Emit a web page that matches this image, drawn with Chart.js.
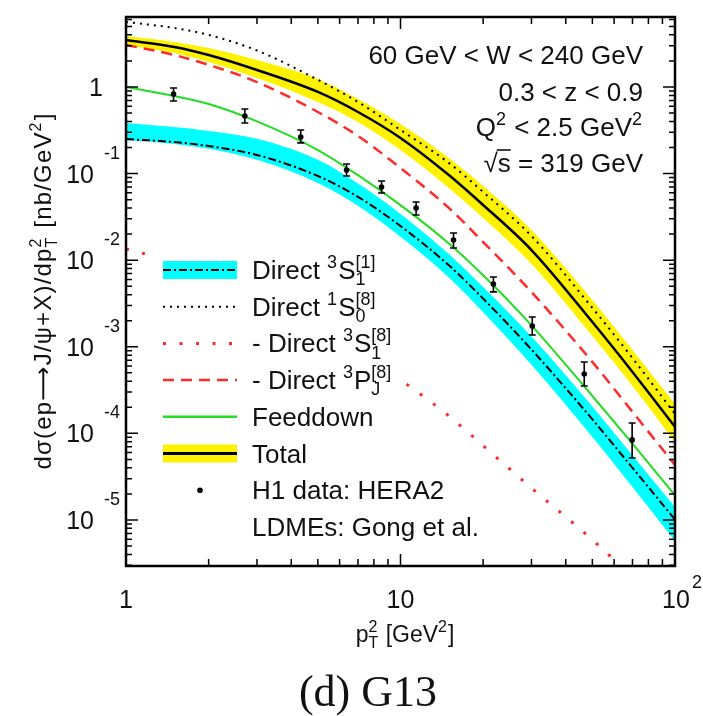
<!DOCTYPE html>
<html lang="en">
<head>
<meta charset="UTF-8">
<title>J/psi pT2 spectrum, G13</title>
<style>
  html, body { margin: 0; padding: 0; background: #fff; }
  canvas { display: block; }
</style>
</head>
<body>
<canvas id="ptChart" width="703" height="716"></canvas>
<script src="https://cdn.jsdelivr.net/npm/chart.js@4.4.0/dist/chart.umd.min.js"></script>
<script>
// pT^2 grid of the theory curves [GeV^2]
const ptGrid = [1, 1.5, 2, 3, 5, 7, 10, 15, 20, 30, 50, 70, 100];

// cross sections in nb/GeV^2
const totalCentral = [3.49, 2.90, 2.34, 1.57, 0.876, 0.514, 0.258, 0.0963, 0.0434, 0.0131, 1.93e-3, 5.12e-4, 1.19e-4];
const totalUpper   = [3.88, 3.31, 2.82, 2.05, 1.24, 0.727, 0.374, 0.151, 0.0719, 0.0223, 3.47e-3, 9.2e-4, 2.19e-4];
const totalLower   = [3.06, 2.47, 1.94, 1.27, 0.671, 0.394, 0.187, 0.0682, 0.0307, 9.04e-3, 1.33e-3, 3.53e-4, 7.96e-5];
const direct1S0    = [5.63, 4.80, 3.99, 2.64, 1.21, 0.671, 0.319, 0.133, 0.0613, 0.0190, 2.81e-3, 7.4e-4, 1.68e-4];
const direct3S1oct = [0.0135, 9.53e-3, 6.93e-3, 3.96e-3, 1.69e-3, 8.94e-4, 4.15e-4, 1.59e-4, 7.20e-5, 2.34e-5, 5.9e-6, 2.14e-6, 6.1e-7];
const direct3PJ    = [3.06, 2.34, 1.80, 1.14, 0.514, 0.272, 0.116, 0.0401, 0.0162, 4.29e-3, 6.68e-4, 1.77e-4, 4.32e-5];
const feeddown     = [1.00, 0.787, 0.636, 0.400, 0.187, 0.0958, 0.0432, 0.0156, 6.70e-3, 1.77e-3, 2.70e-4, 7.6e-5, 1.92e-5];
const singletCentral = [0.251, 0.231, 0.208, 0.164, 0.0938, 0.0539, 0.0248, 8.73e-3, 3.60e-3, 9.3e-4, 1.45e-4, 4.0e-5, 1.01e-5];
const singletUpper   = [0.384, 0.345, 0.310, 0.252, 0.144, 0.0768, 0.0342, 0.0118, 4.90e-3, 1.31e-3, 2.04e-4, 5.6e-5, 1.41e-5];
const singletLower   = [0.244, 0.220, 0.193, 0.144, 0.0779, 0.0424, 0.0186, 6.30e-3, 2.50e-3, 6.2e-4, 9.1e-5, 2.4e-5, 5.7e-6];

// H1 HERA2 measurement
const h1Pt2   = [1.49, 2.71, 4.33, 6.36, 8.53, 11.4, 15.6, 21.8, 30.2, 46.7, 69.8];
const h1Sigma = [0.830, 0.463, 0.265, 0.110, 0.070, 0.0401, 0.0171, 5.31e-3, 1.74e-3, 4.85e-4, 8.4e-5];
const h1Up    = [0.974, 0.557, 0.319, 0.129, 0.0821, 0.0470, 0.0206, 6.40e-3, 2.21e-3, 6.68e-4, 1.32e-4];
const h1Down  = [0.689, 0.384, 0.226, 0.0938, 0.0597, 0.0333, 0.0138, 4.30e-3, 1.37e-3, 3.53e-4, 5.20e-5];

// axis ranges
const xRange = [1, 100];
const yRange = [2.94e-6, 6.43];

const SANS = '"Liberation Sans", "DejaVu Sans", Arial, sans-serif';
const SERIF = '"Liberation Serif", "Times New Roman", serif';
const YELLOW = '#fff200';
const CYAN = '#00ffff';
const RED = '#ff2a2a';
const GREEN = '#22dd22';

const pts = ys => ptGrid.map((x, i) => ({ x: x, y: ys[i] }));

function lineSet(ys, color, width, dash, order) {
  return {
    data: pts(ys), borderColor: color, borderWidth: width, borderDash: dash,
    pointRadius: 0, fill: false, cubicInterpolationMode: 'monotone', order: order
  };
}
function bandEdge(ys, fillColor, order) {
  return {
    data: pts(ys), borderColor: 'rgba(0,0,0,0)', borderWidth: 1, pointRadius: 0,
    backgroundColor: fillColor, fill: fillColor ? '+1' : false,
    cubicInterpolationMode: 'monotone', order: order
  };
}

// text with super/subscripts; parts are strings or {sup, sub}.
// track = extra space after every character of the normal-size runs
function layoutRich(ctx, parts, size, family, track) {
  const small = Math.round(size * 0.68);
  return parts.map(p => {
    if (typeof p === 'string') {
      ctx.font = size + 'px ' + family;
      return ctx.measureText(p).width + track * p.length;
    }
    ctx.font = small + 'px ' + family;
    return Math.max(p.sup ? ctx.measureText(p.sup).width : 0,
                    p.sub ? ctx.measureText(p.sub).width : 0) + 1 + track;
  });
}
function drawRich(ctx, parts, x, y, size, align, family, track) {
  track = track || 0;
  const small = Math.round(size * 0.68);
  const widths = layoutRich(ctx, parts, size, family, track);
  const total = widths.reduce((a, b) => a + b, 0);
  const left = align === 'right' ? x - total : align === 'center' ? x - total / 2 : x;
  let cx = left;
  ctx.textAlign = 'left';
  ctx.textBaseline = 'alphabetic';
  parts.forEach((p, i) => {
    if (typeof p === 'string') {
      ctx.font = size + 'px ' + family;
      if (track) {
        let c = cx;
        for (const ch of p) { ctx.fillText(ch, c, y); c += ctx.measureText(ch).width + track; }
      } else {
        ctx.fillText(p, cx, y);
      }
    } else {
      ctx.font = small + 'px ' + family;
      if (p.sup) ctx.fillText(p.sup, cx, y - size * 0.42);
      if (p.sub) ctx.fillText(p.sub, cx, y + size * 0.24);
    }
    cx += widths[i];
  });
  return { left: left, width: total };
}

function drawErrorBars(chart) {
  const { ctx, scales: { x, y } } = chart;
  ctx.save();
  ctx.strokeStyle = '#000';
  ctx.lineWidth = 1.6;
  h1Pt2.forEach((v, i) => {
    const px = x.getPixelForValue(v);
    const hi = y.getPixelForValue(h1Up[i]);
    const lo = y.getPixelForValue(h1Down[i]);
    ctx.beginPath();
    ctx.moveTo(px, hi); ctx.lineTo(px, lo);
    ctx.moveTo(px - 3.5, hi); ctx.lineTo(px + 3.5, hi);
    ctx.moveTo(px - 3.5, lo); ctx.lineTo(px + 3.5, lo);
    ctx.stroke();
  });
  ctx.restore();
}

function drawLegend(ctx) {
  const x0 = 163, x1 = 237, tx = 252, row0 = 270, step = 36.7;
  ctx.save();
  ctx.fillStyle = '#fff';
  ctx.fillRect(155, 250, 242, 297);
  const rowY = i => row0 + i * step;
  const seg = (y, color, width, dash) => {
    ctx.strokeStyle = color; ctx.lineWidth = width; ctx.setLineDash(dash);
    ctx.beginPath(); ctx.moveTo(x0, y); ctx.lineTo(x1, y); ctx.stroke();
    ctx.setLineDash([]);
  };
  // colour singlet: band + dash-dot
  ctx.fillStyle = CYAN;
  ctx.fillRect(x0, rowY(0) - 9, x1 - x0, 18);
  seg(rowY(0), '#000', 2, [8, 3, 2, 3]);
  seg(rowY(1), '#000', 2, [2, 5]);
  seg(rowY(2), RED, 3, [3, 13.5]);
  seg(rowY(3), RED, 2.5, [11, 7]);
  seg(rowY(4), GREEN, 2.5, []);
  ctx.fillStyle = YELLOW;
  ctx.fillRect(x0, rowY(5) - 9, x1 - x0, 18);
  seg(rowY(5), '#000', 3, []);
  ctx.fillStyle = '#000';
  ctx.beginPath(); ctx.arc(200, rowY(6), 2.8, 0, Math.PI * 2); ctx.fill();

  const labels = [
    ['Direct ', { sup: '3' }, 'S', { sup: '[1]', sub: '1' }],
    ['Direct ', { sup: '1' }, 'S', { sup: '[8]', sub: '0' }],
    ['- Direct ', { sup: '3' }, 'S', { sup: '[8]', sub: '1' }],
    ['- Direct ', { sup: '3' }, 'P', { sup: '[8]', sub: 'J' }],
    ['Feeddown'],
    ['Total'],
    ['H1 data: HERA2'],
    ['LDMEs: Gong et al.']
  ];
  ctx.fillStyle = '#111';
  labels.forEach((parts, i) => drawRich(ctx, parts, tx, rowY(i) + 9, 26, 'left', SANS));
  ctx.restore();
}

function drawFrame(chart) {
  const { ctx, chartArea: a, scales: { x, y } } = chart;
  ctx.save();
  ctx.strokeStyle = '#000';
  ctx.lineWidth = 1.5;
  ctx.beginPath();
  [1, 10].forEach(dec => {
    for (let k = 1; k <= 10; k++) {
      const v = k * dec;
      if (v > xRange[1]) break;
      const px = x.getPixelForValue(v);
      const len = (k === 1 || k === 10) ? 12 : 7;
      ctx.moveTo(px, a.bottom); ctx.lineTo(px, a.bottom - len);
      ctx.moveTo(px, a.top); ctx.lineTo(px, a.top + len);
    }
  });
  for (let d = -6; d <= 1; d++) {
    for (let k = 1; k <= 9; k++) {
      const v = k * Math.pow(10, d);
      if (v < yRange[0] || v > yRange[1]) continue;
      const py = y.getPixelForValue(v);
      const len = k === 1 ? 12 : 6;
      ctx.moveTo(a.left, py); ctx.lineTo(a.left + len, py);
      ctx.moveTo(a.right, py); ctx.lineTo(a.right - len, py);
    }
  }
  ctx.stroke();
  ctx.lineWidth = 2.5;
  ctx.strokeRect(a.left, a.top, a.right - a.left, a.bottom - a.top);

  // tick labels
  ctx.fillStyle = '#111';
  const xl = x.getPixelForValue(1), xm = x.getPixelForValue(10), xr = x.getPixelForValue(100);
  drawRich(ctx, ['1'], xl, 608, 25, 'center', SANS);
  drawRich(ctx, ['10'], xm, 608, 25, 'center', SANS);
  drawRich(ctx, ['10'], xr + 1, 608, 25, 'center', SANS);
  ctx.font = '18px ' + SANS; ctx.textAlign = 'left';
  ctx.fillText('2', xr + 17, 588);

  for (let d = -5; d <= 0; d++) {
    const py = y.getPixelForValue(Math.pow(10, d));
    if (d === 0) {
      drawRich(ctx, ['1'], 103, py + 9, 25, 'right', SANS);
    } else {
      drawRich(ctx, ['10'], 94, py + 9, 25, 'right', SANS);
      ctx.font = '18px ' + SANS; ctx.textAlign = 'left';
      ctx.fillText(String(d), 104, py - 15);
    }
  }

  // axis titles
  drawRich(ctx, ['p', { sup: '2', sub: 'T' }, ' [GeV', { sup: '2' }, ']'], 405, 642, 23, 'center', SANS);
  const yTitle = ['d\u03c3(ep\u27f6J/\u03c8+X)/dp', { sup: '2', sub: 'T' }, ' [nb/GeV', { sup: '2' }, ']'];
  const natural = layoutRich(ctx, yTitle, 24, SANS, 0).reduce((s, w) => s + w, 0);
  const nChars = yTitle.reduce((n, p) => n + (typeof p === 'string' ? p.length : 1), 0);
  ctx.save();
  ctx.translate(51, 291);
  ctx.rotate(-Math.PI / 2);
  drawRich(ctx, yTitle, 0, 0, 24, 'center', SANS, Math.max(0, (357 - natural) / nChars));
  ctx.restore();

  // kinematic cuts
  drawRich(ctx, ['60 GeV < W < 240 GeV'], 643, 64, 26, 'right', SANS);
  drawRich(ctx, ['0.3 < z < 0.9'], 643, 101, 26, 'right', SANS);
  drawRich(ctx, ['Q', { sup: '2' }, ' < 2.5 GeV', { sup: '2' }], 643, 136, 26, 'right', SANS);
  const r = drawRich(ctx, ['\u221as = 319 GeV'], 643, 172, 26, 'right', SANS);
  ctx.font = '26px ' + SANS;
  const rootW = ctx.measureText('\u221a').width, sW = ctx.measureText('s').width;
  ctx.lineWidth = 1.5;
  ctx.beginPath();
  ctx.moveTo(r.left + rootW - 1, 150); ctx.lineTo(r.left + rootW + sW, 150);
  ctx.stroke();

  // caption
  ctx.font = '44px ' + SERIF;
  ctx.textAlign = 'center';
  ctx.fillText('(d) G13', 368, 706);
  ctx.restore();
}

const decorations = {
  id: 'decorations',
  afterDatasetsDraw(chart) { drawErrorBars(chart); },
  afterDraw(chart) {
    drawLegend(chart.ctx);
    drawFrame(chart);
  }
};

new Chart(document.getElementById('ptChart'), {
  type: 'line',
  data: {
    datasets: [
      { data: h1Pt2.map((x, i) => ({ x: x, y: h1Sigma[i] })), showLine: false,
        pointRadius: 2.8, pointBackgroundColor: '#000', pointBorderWidth: 0, order: 0 },
      lineSet(totalCentral, '#000', 2.5, [], 1),
      lineSet(direct1S0, '#000', 2, [2, 5], 2),
      lineSet(direct3PJ, RED, 2.5, [11, 7], 3),
      lineSet(feeddown, GREEN, 2, [], 3),
      lineSet(direct3S1oct, RED, 3, [3, 13.5], 3),
      lineSet(singletCentral, '#000', 2, [8, 3, 2, 3], 3),
      bandEdge(totalUpper, YELLOW, 9),
      bandEdge(totalLower, null, 9),
      bandEdge(singletUpper, CYAN, 9),
      bandEdge(singletLower, null, 9)
    ]
  },
  options: {
    responsive: false,
    devicePixelRatio: 1,
    animation: false,
    layout: { padding: { left: 126, top: 17, right: 28, bottom: 150 } },
    scales: {
      x: { type: 'logarithmic', min: xRange[0], max: xRange[1], display: false },
      y: { type: 'logarithmic', min: yRange[0], max: yRange[1], display: false }
    },
    plugins: { legend: { display: false }, tooltip: { enabled: false } }
  },
  plugins: [decorations]
});
</script>
</body>
</html>
